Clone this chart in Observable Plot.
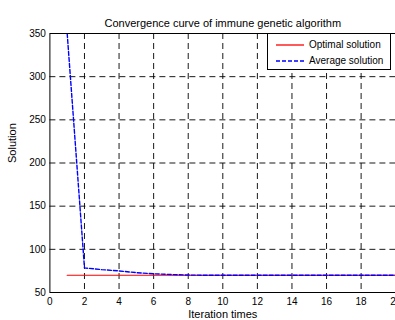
<!DOCTYPE html>
<html><head><meta charset="utf-8">
<script src="https://cdn.jsdelivr.net/npm/d3@7"></script>
<script src="https://cdn.jsdelivr.net/npm/@observablehq/plot@0.6"></script>
<style>
html,body{margin:0;padding:0;background:#fff;overflow:hidden;width:395px;height:320px;}
#wrap{position:relative;width:400px;height:320px;}
#legend{position:absolute;left:267px;top:33px;width:124px;height:37px;border:1px solid #000;background:#fff;box-sizing:border-box;font:10px "Liberation Sans",Arial,sans-serif;}
#legend .row{position:absolute;left:8px;display:flex;align-items:center;}
#legend svg{margin-right:5px;}
</style></head>
<body><div id="wrap"></div>
<script>
const iterations = [1,2,3,4,5,6,7,8,9,10,11,12,13,14,15,16,17,18,19,20];
const optimal = [70,70,70,70,70,70,70,70,70,70,70,70,70,70,70,70,70,70,70,70];
const average = [350,78.5,76.5,75,73,71.6,70.8,70.2,70,70,70,70,70,70,70,70,70,70,70,70];
const xTicks = [0,2,4,6,8,10,12,14,16,18,20];
const yTicks = [50,100,150,200,250,300,350];
const title = "Convergence curve of immune genetic algorithm";
const seriesNames = ["Optimal solution","Average solution"];
const seriesColors = ["#ff0000","#0000ff"];

const opt = iterations.map((x,i)=>({x, y: optimal[i]}));
const avg = iterations.map((x,i)=>({x, y: average[i]}));
const font = '"Liberation Sans", Arial, sans-serif';

const chart = Plot.plot({
  width: 400, height: 320,
  marginLeft: 49.4, marginRight: 4.8, marginTop: 33, marginBottom: 28,
  style: {fontFamily: font, fontSize: "10px", background: "#fff", color: "#000"},
  x: {domain: [0,20], ticks: xTicks, label: null},
  y: {domain: [50,350], ticks: yTicks, label: null},
  marks: [
    Plot.gridX(xTicks.slice(1,-1), {stroke: "#000", strokeOpacity: 0.9, strokeDasharray: "6,4", strokeWidth: 1}),
    Plot.gridY(yTicks.slice(1,-1), {stroke: "#000", strokeOpacity: 0.9, strokeDasharray: "6,4", strokeWidth: 1}),
    Plot.line(opt, {x:"x", y:"y", stroke: seriesColors[0], strokeWidth: 1.2}),
    Plot.line(avg, {x:"x", y:"y", stroke: seriesColors[1], strokeWidth: 1.4, strokeDasharray: "4,2", clip: true}),
    Plot.frame({stroke: "#000", strokeWidth: 1}),
    Plot.axisX({ticks: xTicks, tickSize: 0, tickPadding: 5, label: null, fontSize: 10}),
    Plot.axisY({ticks: yTicks, tickSize: 0, tickPadding: 4, label: null, fontSize: 10}),
    Plot.text([title], {frameAnchor: "top", dy: -7, fontSize: 11, text: d=>d, lineAnchor: "bottom"}),
    Plot.text(["Iteration times"], {frameAnchor: "bottom", dy: 22, fontSize: 11, text: d=>d, lineAnchor: "middle"}),
    Plot.text(["Solution"], {frameAnchor: "left", dx: -37, rotate: -90, fontSize: 11, text: d=>d})
  ]
});
document.getElementById("wrap").appendChild(chart);

const leg = document.createElement("div");
leg.id = "legend";
seriesNames.forEach((name,i)=>{
  const row = document.createElement("div");
  row.className = "row";
  row.style.top = (i===0 ? 5 : 21) + "px";
  row.innerHTML = `<svg width="28" height="8"><line x1="0" x2="28" y1="4" y2="4" stroke="${seriesColors[i]}" stroke-width="1.3" ${i===1?'stroke-dasharray="4,2"':''}/></svg><span>${name}</span>`;
  leg.appendChild(row);
});
document.getElementById("wrap").appendChild(leg);
</script>
</body></html>
